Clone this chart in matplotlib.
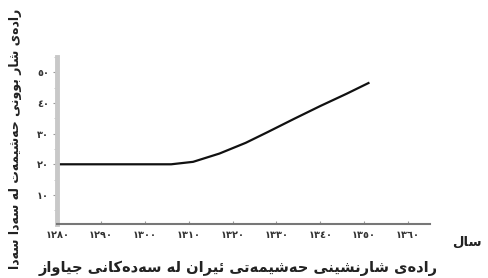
import matplotlib
matplotlib.use('Agg')
import matplotlib.pyplot as plt
from matplotlib.ticker import MultipleLocator

# urbanisation share of Iran's population, solar hijri years
years = [1280, 1290, 1300, 1306, 1311, 1317, 1323, 1328, 1334, 1340, 1346, 1351]
urban = [20, 20, 20, 20, 20.8, 23.5, 27, 30.5, 34.8, 39, 43, 46.5]

x_ticks = [1280, 1290, 1300, 1310, 1320, 1330, 1340, 1350, 1360]
y_ticks = [10, 20, 30, 40, 50]

title = 'رادەی شارنشینی حەشیمەتی ئێران لە سەدەکانی جیاواز'
y_label = 'رادەی شار بوونی حەشیمەت لە سەدا سەدا'
x_label = 'ساڵ'

# matplotlib has no arabic shaping, so pick presentation forms by hand
FORMS = {
    'ء': (0xFE80,),
    'آ': (0xFE81, 0xFE82), 'أ': (0xFE83, 0xFE84), 'ؤ': (0xFE85, 0xFE86),
    'إ': (0xFE87, 0xFE88), 'ئ': (0xFE89, 0xFE8A, 0xFE8B, 0xFE8C),
    'ا': (0xFE8D, 0xFE8E), 'ب': (0xFE8F, 0xFE90, 0xFE91, 0xFE92),
    'ة': (0xFE93, 0xFE94), 'ت': (0xFE95, 0xFE96, 0xFE97, 0xFE98),
    'ث': (0xFE99, 0xFE9A, 0xFE9B, 0xFE9C), 'ج': (0xFE9D, 0xFE9E, 0xFE9F, 0xFEA0),
    'ح': (0xFEA1, 0xFEA2, 0xFEA3, 0xFEA4), 'خ': (0xFEA5, 0xFEA6, 0xFEA7, 0xFEA8),
    'د': (0xFEA9, 0xFEAA), 'ذ': (0xFEAB, 0xFEAC), 'ر': (0xFEAD, 0xFEAE),
    'ڕ': (0xFEAD, 0xFEAE), 'ز': (0xFEAF, 0xFEB0), 'ژ': (0xFB8A, 0xFB8B),
    'س': (0xFEB1, 0xFEB2, 0xFEB3, 0xFEB4), 'ش': (0xFEB5, 0xFEB6, 0xFEB7, 0xFEB8),
    'ص': (0xFEB9, 0xFEBA, 0xFEBB, 0xFEBC), 'ض': (0xFEBD, 0xFEBE, 0xFEBF, 0xFEC0),
    'ط': (0xFEC1, 0xFEC2, 0xFEC3, 0xFEC4), 'ظ': (0xFEC5, 0xFEC6, 0xFEC7, 0xFEC8),
    'ع': (0xFEC9, 0xFECA, 0xFECB, 0xFECC), 'غ': (0xFECD, 0xFECE, 0xFECF, 0xFED0),
    'ف': (0xFED1, 0xFED2, 0xFED3, 0xFED4), 'ق': (0xFED5, 0xFED6, 0xFED7, 0xFED8),
    'ل': (0xFEDD, 0xFEDE, 0xFEDF, 0xFEE0), 'ڵ': (0xFEDD, 0xFEDE, 0xFEDF, 0xFEE0),
    'م': (0xFEE1, 0xFEE2, 0xFEE3, 0xFEE4), 'ن': (0xFEE5, 0xFEE6, 0xFEE7, 0xFEE8),
    'ه': (0xFEE9, 0xFEEA, 0xFEEB, 0xFEEC), 'ە': (0xFEE9, 0xFEEA),
    'و': (0xFEED, 0xFEEE), 'ۆ': (0xFBD9, 0xFBDA),
    'ی': (0xFBFC, 0xFBFD, 0xFBFE, 0xFBFF), 'ێ': (0xFBFC, 0xFBFD, 0xFBFE, 0xFBFF),
    'پ': (0xFB56, 0xFB57, 0xFB58, 0xFB59), 'چ': (0xFB7A, 0xFB7B, 0xFB7C, 0xFB7D),
    'ک': (0xFB8E, 0xFB8F, 0xFB90, 0xFB91), 'گ': (0xFB92, 0xFB93, 0xFB94, 0xFB95),
}


def joins_left(ch):
    return ch in FORMS and len(FORMS[ch]) == 4


def shape(text):
    out = []
    i = 0
    while i < len(text):
        ch = text[i]
        prev = text[i - 1] if i > 0 else None
        nxt = text[i + 1] if i + 1 < len(text) else None
        if ch not in FORMS:
            out.append(ch)
            i += 1
            continue
        linked_prev = prev is not None and joins_left(prev)
        if ch in 'لڵ' and nxt == 'ا':
            out.append(chr(0xFEFC if linked_prev else 0xFEFB))
            i += 2
            continue
        forms = FORMS[ch]
        linked_next = len(forms) == 4 and nxt in FORMS
        if len(forms) == 1:
            code = forms[0]
        elif linked_prev and linked_next:
            code = forms[3]
        elif linked_prev:
            code = forms[1]
        elif linked_next:
            code = forms[2]
        else:
            code = forms[0]
        out.append(chr(code))
        i += 1
    return ''.join(reversed(out))


def arabic_digits(n):
    return ''.join(chr(0x0660 + int(d)) for d in str(n))


fig = plt.figure(figsize=(4.89, 2.78), dpi=100)
ax = fig.add_axes([0.117, 0.194, 0.762, 0.601])

ax.plot(years, urban, color='#111111', lw=1.6)

ax.set_xlim(1280, 1365)
ax.set_ylim(0.5, 55)
ax.set_xticks(x_ticks)
ax.set_xticklabels([arabic_digits(v) for v in x_ticks], fontsize=7, fontweight='bold', color='#333333')
ax.set_yticks(y_ticks)
ax.set_yticklabels([arabic_digits(v) for v in y_ticks], fontsize=7, fontweight='bold', color='#333333')
ax.yaxis.set_minor_locator(MultipleLocator(5))

for side in ['top', 'right']:
    ax.spines[side].set_visible(False)
ax.spines['left'].set_color('#c8c8c8')
ax.spines['left'].set_linewidth(3.5)
ax.spines['bottom'].set_color('#777777')
ax.spines['bottom'].set_linewidth(1.5)
ax.tick_params(axis='y', length=3, width=0.8, color='#999999', pad=3)
ax.tick_params(axis='y', which='minor', length=2, width=0.6, color='#bbbbbb')
ax.tick_params(axis='x', direction='in', length=2, width=0.8, color='#999999', pad=4)

fig.text(0.031, 0.5, shape(y_label), rotation=90, ha='center', va='center',
         fontsize=9, fontweight='bold', color='#222222')
fig.text(0.487, 0.036, shape(title), ha='center', va='center',
         fontsize=10.5, fontweight='bold', color='#222222')
fig.text(0.955, 0.13, shape(x_label), ha='center', va='center',
         fontsize=9.5, fontweight='bold', color='#222222')

fig.savefig('out.png', dpi=100)
